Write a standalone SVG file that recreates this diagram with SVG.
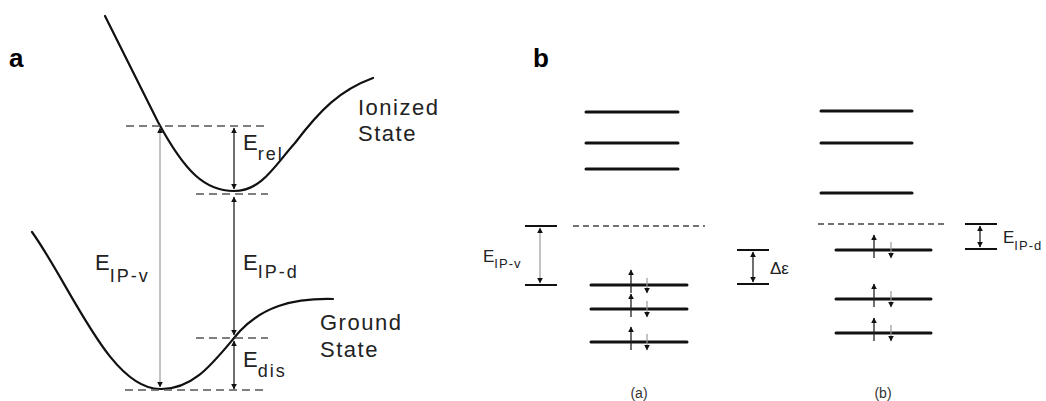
<svg xmlns="http://www.w3.org/2000/svg" width="1046" height="401" viewBox="0 0 1046 401">
<defs>
<marker id="ah" viewBox="0 0 10 10" refX="9" refY="5" markerWidth="6" markerHeight="6" markerUnits="userSpaceOnUse" orient="auto-start-reverse">
<path d="M0,0 L10,5 L0,10 Z" fill="#111"/>
</marker>
<style>
.panel{font-family:"Liberation Sans",Arial,sans-serif;font-weight:bold;font-size:26px;fill:#000}
.lbl{font-family:"Liberation Sans",Arial,sans-serif;fill:#222;font-size:22px;letter-spacing:1.5px}
.e{font-family:"Liberation Sans",Arial,sans-serif;fill:#222;font-size:22px}
.sub{font-size:18px;letter-spacing:2px}
.es{font-family:"Liberation Sans",Arial,sans-serif;fill:#222;font-size:17px}
.subs{font-size:13px;letter-spacing:1px}
.curve{fill:none;stroke:#111;stroke-width:2.2;stroke-linecap:round}
.dash{stroke:#555;stroke-width:1.5;stroke-dasharray:8 5;fill:none}
.dash2{stroke:#444;stroke-width:1.5;stroke-dasharray:6 4;fill:none}
.lvl{stroke:#111;stroke-width:3;stroke-linecap:round}
.bar{stroke:#111;stroke-width:2}
.arr{stroke:#222;stroke-width:1.3;fill:none}
.arrg{stroke:#999;stroke-width:1.2;fill:none}
.cap{font-family:"Liberation Sans",Arial,sans-serif;fill:#333;font-size:14px;text-anchor:middle}
</style>
</defs>
<rect width="1046" height="401" fill="#fff"/>

<g id="panel-a">
<text class="panel" x="9" y="67">a</text>
<g id="ionized-state">
<path class="curve" d="M105,16 L158,122 C185,172 205,191 234,191 C262,191 275,165 295,143 C320,110 340,90 373,78"/>
<text class="lbl" x="358" y="115">Ionized</text>
<text class="lbl" x="358" y="141">State</text>
</g>
<g id="ground-state">
<path class="curve" d="M32,232 C72,288 110,389 160,389 C195,390 215,360 240,331 C262,308 290,298 333,299"/>
<text class="lbl" x="320" y="330">Ground</text>
<text class="lbl" x="320" y="357">State</text>
</g>
<g id="levels-a">
<line class="dash" x1="126" y1="126" x2="268" y2="126"/>
<line class="dash" x1="196" y1="194" x2="268" y2="194"/>
<line class="dash" x1="196" y1="338" x2="268" y2="338"/>
<line class="dash" x1="125" y1="390" x2="268" y2="390"/>
</g>
<g id="labels-a">
<text class="e" x="95" y="270">E<tspan class="sub" dy="12">IP-v</tspan></text>
<text class="e" x="243" y="150">E<tspan class="sub" dy="10">rel</tspan></text>
<text class="e" x="243" y="270">E<tspan class="sub" dy="8">IP-d</tspan></text>
<text class="e" x="243" y="367">E<tspan class="sub" dy="10">dis</tspan></text>
</g>
</g>

<g id="panel-b">
<text class="panel" x="533" y="67">b</text>
<g id="column-a">
<line class="lvl" x1="586" y1="112" x2="678" y2="112"/>
<line class="lvl" x1="586" y1="143" x2="678" y2="143"/>
<line class="lvl" x1="586" y1="169" x2="678" y2="169"/>
<line class="dash2" x1="573" y1="226" x2="705" y2="226"/>
<line class="lvl" x1="591" y1="285" x2="687" y2="285"/>
<line class="lvl" x1="591" y1="309" x2="687" y2="309"/>
<line class="lvl" x1="591" y1="342" x2="687" y2="342"/>
<text class="cap" x="639" y="398">(a)</text>
</g>
<g id="column-b">
<line class="lvl" x1="821" y1="111" x2="912" y2="111"/>
<line class="lvl" x1="821" y1="143" x2="912" y2="143"/>
<line class="lvl" x1="821" y1="193" x2="912" y2="193"/>
<line class="dash2" x1="818" y1="224" x2="948" y2="224"/>
<line class="lvl" x1="836" y1="250" x2="931" y2="250"/>
<line class="lvl" x1="836" y1="299" x2="931" y2="299"/>
<line class="lvl" x1="836" y1="333" x2="931" y2="333"/>
<text class="cap" x="883" y="398">(b)</text>
</g>
<g id="bracket-ipv">
<line class="bar" x1="525" y1="226" x2="557" y2="226"/>
<line class="bar" x1="525" y1="285" x2="557" y2="285"/>
<text class="es" x="483" y="262">E<tspan class="subs" dy="6">IP-v</tspan></text>
</g>
<g id="bracket-de">
<line class="bar" x1="737" y1="250" x2="769" y2="250"/>
<line class="bar" x1="737" y1="284" x2="769" y2="284"/>
<text class="es" x="770" y="274">Δε</text>
</g>
<g id="bracket-ipd">
<line class="bar" x1="965" y1="224" x2="997" y2="224"/>
<line class="bar" x1="965" y1="249" x2="997" y2="249"/>
<text class="es" x="1003" y="243">E<tspan class="subs" dy="7">IP-d</tspan></text>
</g>
</g>

<g id="connectors">
<line class="arrg" x1="160" y1="128" x2="160" y2="387" marker-start="url(#ah)" marker-end="url(#ah)"/>
<line class="arr" x1="234" y1="128" x2="234" y2="189" marker-start="url(#ah)" marker-end="url(#ah)"/>
<line class="arr" x1="234" y1="197" x2="234" y2="335" marker-start="url(#ah)" marker-end="url(#ah)"/>
<line class="arr" x1="234" y1="341" x2="234" y2="389" marker-start="url(#ah)" marker-end="url(#ah)"/>
<line class="arrg" x1="540" y1="228" x2="540" y2="283" marker-start="url(#ah)" marker-end="url(#ah)"/>
<line class="arr" x1="753" y1="252" x2="753" y2="282" marker-start="url(#ah)" marker-end="url(#ah)"/>
<line class="arr" x1="980" y1="226" x2="980" y2="247" marker-start="url(#ah)" marker-end="url(#ah)"/>
<line class="arr" x1="631" y1="293" x2="631" y2="270" marker-end="url(#ah)"/>
<line class="arrg" x1="647" y1="278" x2="647" y2="293" marker-end="url(#ah)"/>
<line class="arr" x1="631" y1="317" x2="631" y2="294" marker-end="url(#ah)"/>
<line class="arrg" x1="647" y1="301" x2="647" y2="317" marker-end="url(#ah)"/>
<line class="arr" x1="631" y1="350" x2="631" y2="327" marker-end="url(#ah)"/>
<line class="arrg" x1="647" y1="334" x2="647" y2="350" marker-end="url(#ah)"/>
<line class="arr" x1="874" y1="258" x2="874" y2="235" marker-end="url(#ah)"/>
<line class="arrg" x1="891" y1="242" x2="891" y2="258" marker-end="url(#ah)"/>
<line class="arr" x1="874" y1="307" x2="874" y2="284" marker-end="url(#ah)"/>
<line class="arrg" x1="891" y1="291" x2="891" y2="307" marker-end="url(#ah)"/>
<line class="arr" x1="874" y1="341" x2="874" y2="318" marker-end="url(#ah)"/>
<line class="arrg" x1="891" y1="325" x2="891" y2="341" marker-end="url(#ah)"/>
</g>
</svg>
